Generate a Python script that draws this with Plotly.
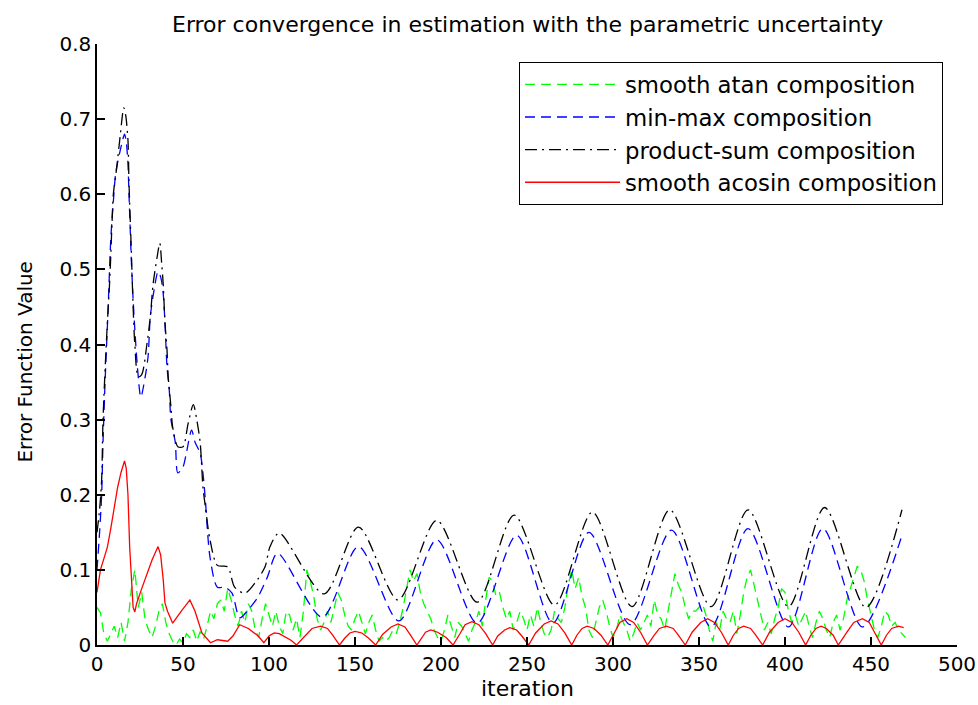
import plotly.graph_objects as go

# ---------------- data ----------------
atan_x = list(range(0, 472, 2))
atan_y = [0.05, 0.043, 0.015, 0.005, 0.015, 0.025, 0.01, 0.03, 0.005, 0.03,
          0.075, 0.1, 0.05, 0.07, 0.033, 0.02, 0.01, 0.025, 0.045, 0.055,
          0.03, 0.015, 0.005, 0.0, 0.008, 0.003, 0.015, 0.01, 0.02, 0.005,
          0.018, 0.008, 0.025, 0.045, 0.035, 0.055, 0.06, 0.045, 0.075, 0.06,
          0.04, 0.025, 0.045, 0.03, 0.055, 0.045, 0.02, 0.01, 0.035, 0.055,
          0.04, 0.025, 0.045, 0.025, 0.015, 0.045, 0.04, 0.02, 0.035, 0.01,
          0.045, 0.1, 0.085, 0.065, 0.035, 0.02, 0.03, 0.045, 0.03, 0.05,
          0.07, 0.06, 0.04, 0.025, 0.02, 0.035, 0.045, 0.03, 0.015, 0.03,
          0.04, 0.02, 0.005, 0.01, 0.005, 0.01, 0.02, 0.015, 0.03, 0.05,
          0.075, 0.1, 0.085, 0.095, 0.07, 0.055, 0.045, 0.035, 0.02, 0.01,
          0.005, 0.02, 0.04, 0.025, 0.01, 0.03, 0.025, 0.015, 0.005, 0.02,
          0.03, 0.045, 0.025, 0.06, 0.09, 0.085, 0.065, 0.07, 0.05, 0.035,
          0.045, 0.02, 0.03, 0.045, 0.035, 0.02, 0.04, 0.025, 0.05, 0.03,
          0.015, 0.01, 0.02, 0.045, 0.035, 0.03, 0.05, 0.08, 0.1, 0.075,
          0.09, 0.065, 0.05, 0.02, 0.01, 0.03, 0.05, 0.06, 0.045, 0.025,
          0.01, 0.02, 0.04, 0.03, 0.02, 0.005, 0.015, 0.03, 0.02, 0.03,
          0.04, 0.025, 0.06, 0.04, 0.035, 0.02, 0.045, 0.075, 0.095, 0.08,
          0.07, 0.05, 0.035, 0.045, 0.045, 0.05, 0.055, 0.04, 0.02, 0.005,
          0.03, 0.02, 0.045, 0.035, 0.03, 0.045, 0.015, 0.04, 0.07, 0.09,
          0.1, 0.08, 0.06, 0.04, 0.02, 0.03, 0.015, 0.035, 0.05, 0.075,
          0.07, 0.045, 0.03, 0.04, 0.025, 0.035, 0.045, 0.025, 0.01, 0.03,
          0.045, 0.035, 0.02, 0.01, 0.03, 0.04, 0.02, 0.035, 0.06, 0.075,
          0.09, 0.105, 0.1, 0.085, 0.06, 0.04, 0.02, 0.01, 0.025, 0.045,
          0.04, 0.025, 0.03, 0.02, 0.015, 0.01]

minmax_x = [0, 1.5, 2.7, 3.5, 4.7, 6.5, 8, 9.5, 11, 14.5, 16, 17, 18, 18.6, 20,
            21, 22, 23.5, 25.5, 28, 29.7, 31, 33, 35.5, 37, 38.4, 39.5, 40.7,
            42, 43, 45.5, 47, 50, 52, 55, 57, 60, 61.6, 63, 65.7, 70, 74.4,
            78.5, 83, 88, 93.6, 99, 105, 131, 152, 175.5, 197.5, 221, 244,
            265, 286, 310, 334, 357, 378.5, 402, 422, 445, 468]
minmax_y = [0.1, 0.15, 0.2, 0.27, 0.35, 0.45, 0.54, 0.59, 0.63, 0.668, 0.68,
            0.67, 0.64, 0.6, 0.51, 0.46, 0.42, 0.37, 0.33, 0.357, 0.384,
            0.437, 0.47, 0.497, 0.49, 0.47, 0.43, 0.37, 0.34, 0.3, 0.27,
            0.229, 0.237, 0.256, 0.286, 0.27, 0.255, 0.229, 0.193, 0.117,
            0.077, 0.077, 0.069, 0.036, 0.047, 0.064, 0.09, 0.122, 0.037,
            0.131, 0.032, 0.14, 0.029, 0.146, 0.029, 0.15, 0.027, 0.153,
            0.024, 0.155, 0.024, 0.155, 0.024, 0.146]

prodsum_x = [0, 1.5, 2.7, 3.5, 5.6, 7.5, 8.7, 9.5, 11.5, 13.4, 15.6, 16.7, 18,
             18.6, 19.8, 21, 22, 24, 26, 29, 31, 32.6, 35, 36.5, 37.6, 38.5,
             39.5, 40.7, 41.4, 43, 44, 47, 50, 53, 56, 58, 60, 61.6, 63, 65.7,
             70, 76, 80, 86, 92, 97.7, 100.6, 106, 132, 152, 175, 197.5, 221,
             242.5, 266, 288, 311, 333, 357, 378.5, 402, 423, 447, 468]
prodsum_y = [0.15, 0.18, 0.22, 0.3, 0.41, 0.49, 0.56, 0.6, 0.636, 0.676, 0.715,
             0.705, 0.672, 0.615, 0.535, 0.45, 0.4, 0.357, 0.36, 0.4, 0.437,
             0.48, 0.517, 0.535, 0.508, 0.48, 0.43, 0.393, 0.357, 0.317, 0.29,
             0.264, 0.264, 0.295, 0.32, 0.3, 0.269, 0.21, 0.184, 0.14, 0.106,
             0.104, 0.077, 0.069, 0.083, 0.104, 0.131, 0.149, 0.068, 0.157,
             0.06, 0.166, 0.057, 0.173, 0.053, 0.177, 0.051, 0.18, 0.051,
             0.18, 0.051, 0.183, 0.05, 0.18]

acosin_x = [0, 2, 4, 6, 8, 10, 12, 14, 16, 17, 18, 19, 20, 21, 22, 23, 26, 29,
            32, 35.5, 37, 38.5, 39.5, 41, 44, 49, 54, 57, 61, 66, 70, 76, 79,
            83, 88, 93.7, 97, 100, 103, 106, 110, 113,
            116, 121, 125, 130, 134, 137,
            141, 144, 147, 150, 154, 158,
            162, 166, 171, 175, 179, 182,
            186, 189, 191, 194, 198, 203,
            207, 211, 214, 218, 222, 226,
            230, 233, 237, 240, 244, 247,
            251, 255, 260, 264, 268, 272,
            276, 279, 282, 285, 289, 293,
            297, 301, 304, 308, 312, 316,
            320, 324, 327, 331, 335, 338,
            342, 346, 351, 355, 359, 363,
            367, 370, 373, 376, 380, 383,
            387, 391, 396, 400, 404, 408,
            412, 415, 418, 421, 424, 428,
            431, 436, 440, 445, 449, 452,
            456, 459, 462, 466, 469]
acosin_y = [0.07, 0.1, 0.115, 0.13, 0.155, 0.185, 0.21, 0.23, 0.245, 0.235,
            0.2, 0.13, 0.08, 0.05, 0.044, 0.055, 0.075, 0.095, 0.113, 0.131,
            0.12, 0.087, 0.056, 0.045, 0.029, 0.045, 0.06, 0.045, 0.016,
            0.003, 0.007, 0.005, 0.012, 0.027, 0.022, 0.012, 0.003, 0.012,
            0.016, 0.015, 0.01, 0.006,
            0.0, 0.013, 0.022, 0.025, 0.022, 0.013,
            0.0, 0.009, 0.016, 0.018, 0.016, 0.009,
            0.0, 0.014, 0.024, 0.028, 0.024, 0.014,
            0.0, 0.01, 0.017, 0.02, 0.017, 0.01,
            0.0, 0.015, 0.027, 0.031, 0.027, 0.015,
            0.0, 0.012, 0.02, 0.023, 0.02, 0.012,
            0.0, 0.016, 0.028, 0.032, 0.028, 0.016,
            0.0, 0.013, 0.022, 0.025, 0.022, 0.013,
            0.0, 0.017, 0.03, 0.035, 0.03, 0.017,
            0.0, 0.013, 0.022, 0.025, 0.022, 0.013,
            0.0, 0.017, 0.03, 0.035, 0.03, 0.017,
            0.0, 0.013, 0.022, 0.025, 0.022, 0.013,
            0.0, 0.017, 0.03, 0.035, 0.03, 0.017,
            0.0, 0.013, 0.022, 0.025, 0.022, 0.013,
            0.0, 0.017, 0.03, 0.035, 0.03, 0.017,
            0.0, 0.013, 0.022, 0.025, 0.023]

y_ticks = [0, 0.1, 0.2, 0.3, 0.4, 0.5, 0.6, 0.7, 0.8]
y_tick_text = ["0", "0.1", "0.2", "0.3", "0.4", "0.5", "0.6", "0.7", "0.8"]
x_ticks = [0, 50, 100, 150, 200, 250, 300, 350, 400, 450, 500]

FONT = "DejaVu Sans, Liberation Sans, Arial, sans-serif"

fig = go.Figure()
fig.add_trace(go.Scatter(x=atan_x, y=atan_y, mode="lines",
                         name="smooth atan composition",
                         line=dict(color="#00ff00", width=1.3, dash="10px,6px")))
fig.add_trace(go.Scatter(x=minmax_x, y=minmax_y, mode="lines",
                         name="min-max composition",
                         line=dict(color="#0000ff", width=1.3, dash="10px,6px",
                                   shape="spline", smoothing=0.8)))
fig.add_trace(go.Scatter(x=prodsum_x, y=prodsum_y, mode="lines",
                         name="product-sum composition",
                         line=dict(color="#000000", width=1.3,
                                   dash="12px,5px,2px,5px",
                                   shape="spline", smoothing=0.8)))
fig.add_trace(go.Scatter(x=acosin_x, y=acosin_y, mode="lines",
                         name="smooth acosin composition",
                         line=dict(color="#ff0000", width=1.3)))

fig.update_layout(
    width=978, height=705, autosize=False,
    paper_bgcolor="white", plot_bgcolor="white",
    margin=dict(l=97, r=21, t=44, b=60, autoexpand=False),
    font=dict(family=FONT, size=20, color="black"),
    showlegend=True,
    legend=dict(x=0.9837, y=0.970, xanchor="right", yanchor="top",
                bgcolor="white", bordercolor="black", borderwidth=1,
                font=dict(family=FONT, size=22.8), itemwidth=95,
                tracegroupgap=0),
    annotations=[
        dict(text="Error convergence in estimation with the parametric uncertainty",
             xref="paper", yref="paper", x=0.5, y=1.0, yshift=5,
             xanchor="center", yanchor="bottom", showarrow=False,
             font=dict(family=FONT, size=22)),
        dict(text="iteration", xref="paper", yref="paper", x=0.5, y=0,
             yshift=-58, xanchor="center", yanchor="bottom", showarrow=False,
             font=dict(family=FONT, size=22)),
        dict(text="Error Function Value", xref="paper", yref="paper",
             x=0, xshift=-72, y=0.47, textangle=-90, xanchor="center",
             yanchor="middle", showarrow=False,
             font=dict(family=FONT, size=20)),
    ],
)
fig.update_xaxes(range=[0, 500], tickvals=x_ticks,
                 ticktext=[str(v) for v in x_ticks], automargin=False,
                 showline=True, linecolor="black", linewidth=1.5,
                 ticks="inside", ticklen=8, tickcolor="black", tickwidth=1.5,
                 showgrid=False, zeroline=False, mirror=False)
fig.update_yaxes(range=[0, 0.8], tickvals=y_ticks, ticktext=y_tick_text,
                 automargin=False,
                 showline=True, linecolor="black", linewidth=1.5,
                 ticks="inside", ticklen=8, tickcolor="black", tickwidth=1.5,
                 showgrid=False, zeroline=False, mirror=False)

fig.write_html("out.html",
               config={"displayModeBar": False, "responsive": False},
               post_script="document.body.style.margin='0px';"
                           "document.body.style.overflow='hidden';")
